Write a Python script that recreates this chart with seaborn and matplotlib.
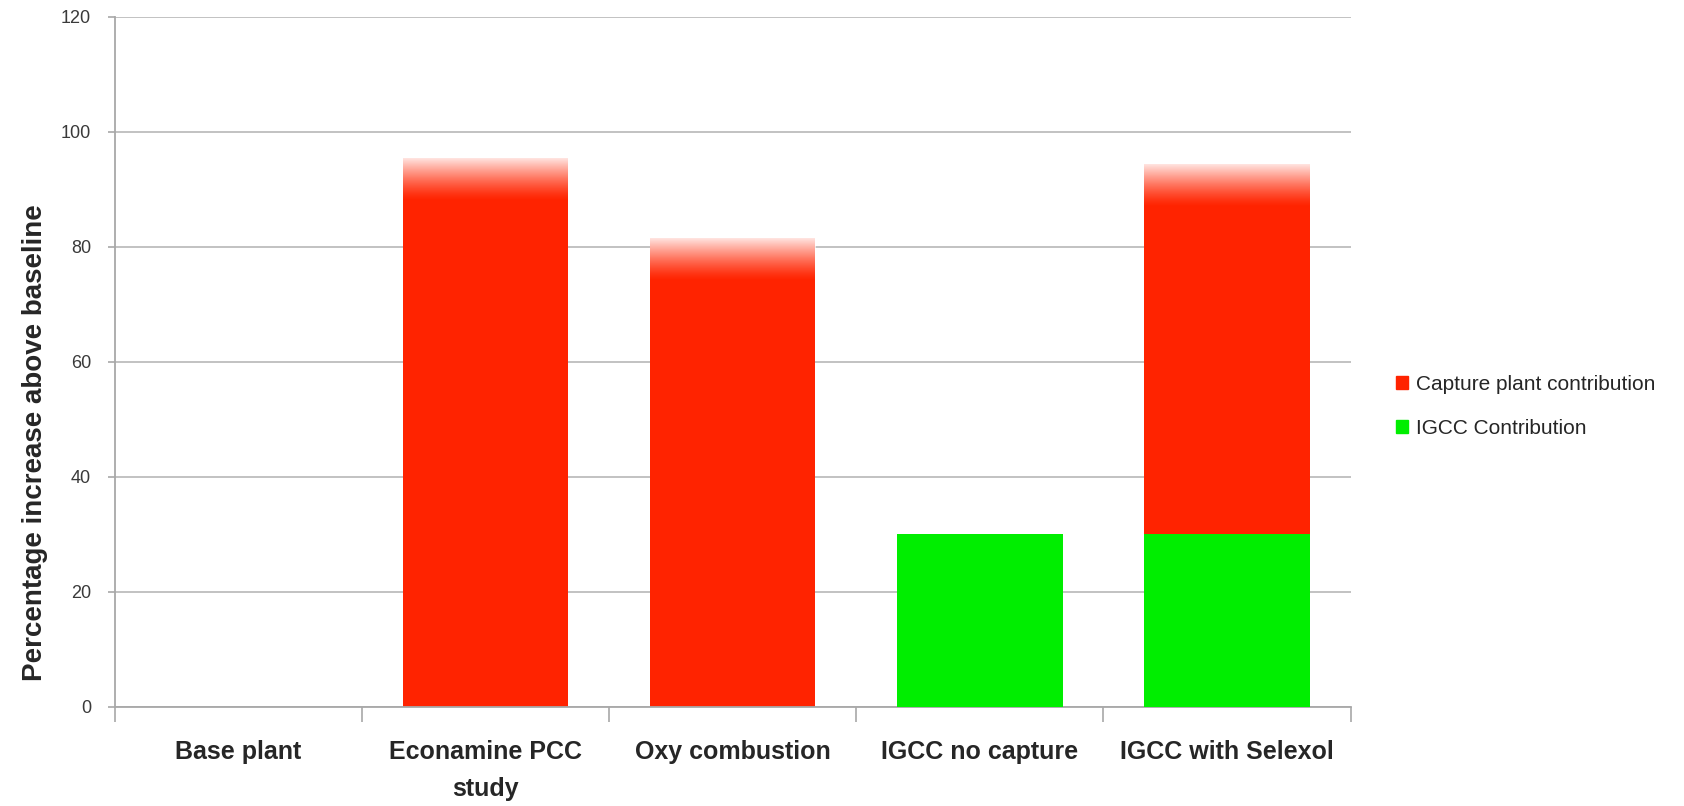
import numpy as np
import pandas as pd
import matplotlib
matplotlib.use('Agg')
import matplotlib.pyplot as plt
import matplotlib.patches as mpatches
import seaborn as sns

# values
categories = ['Base plant', 'Econamine PCC\nstudy', 'Oxy combustion', 'IGCC no capture', 'IGCC with Selexol']
igcc_contribution = [0, 0, 0, 30, 30]
capture_contribution = [0, 95.5, 81.5, 0, 64.5]
y_ticks = [0, 20, 40, 60, 80, 100, 120]

red = '#ff2300'
green = '#00ee00'
fade_depth = 7.5  # units of the gradient at the top of the red bars

df = pd.DataFrame({
    'category': categories,
    'igcc': igcc_contribution,
    'capture': capture_contribution,
})
df['total'] = df['igcc'] + df['capture']

sns.set_style('white')
plt.rcParams['font.family'] = ['Liberation Sans', 'DejaVu Sans']

fig = plt.figure(figsize=(16.84, 8.06), dpi=100)
ax = fig.add_axes([0.068, 0.123, 0.734, 0.856])

# red = total height, green drawn over the bottom part
sns.barplot(data=df, x='category', y='total', color=red, saturation=1, width=0.67,
            linewidth=0, ax=ax, zorder=2)
red_bars = list(ax.patches)
sns.barplot(data=df, x='category', y='igcc', color=green, saturation=1, width=0.67,
            linewidth=0, ax=ax, zorder=3)

# white fade at the top of each red (capture) segment
grad = np.zeros((100, 1, 4))
grad[..., :3] = 1.0
grad[:, 0, 3] = np.linspace(0, 0.93, 100) ** 1.3
for p, cap in zip(red_bars, df['capture']):
    if cap <= 0:
        continue
    top = p.get_y() + p.get_height()
    ax.imshow(grad, extent=[p.get_x(), p.get_x() + p.get_width(), top - fade_depth, top],
              origin='lower', aspect='auto', zorder=4, interpolation='bilinear')

ax.set_xlim(-0.5, len(categories) - 0.5)
ax.set_ylim(0, 120)
ax.set_yticks(y_ticks)
ax.yaxis.grid(True, color='#b8b8b8', linewidth=1.2, zorder=0)
ax.set_axisbelow(True)

for s in ['top', 'right']:
    ax.spines[s].set_visible(False)
for s in ['left', 'bottom']:
    ax.spines[s].set_color('#a8a8a8')
    ax.spines[s].set_linewidth(1.3)

ax.tick_params(axis='y', left=True, length=5, width=1.2, color='#a8a8a8',
               labelsize=13, labelcolor='#3a3a3a', pad=12)
ax.set_xticks(range(len(categories)))
ax.set_xticklabels(categories, fontsize=18, fontweight='bold', va='top', linespacing=1.7)
ax.tick_params(axis='x', which='major', length=0, pad=24)
ax.set_xticks(np.arange(-0.5, len(categories), 1), minor=True)
ax.tick_params(axis='x', which='minor', bottom=True, length=11, width=1.2, color='#a8a8a8')

ax.set_xlabel('')
ax.set_ylabel('Percentage increase above baseline', fontsize=20, fontweight='bold')
ax.yaxis.set_label_coords(-0.054, 0.383)

handles = [mpatches.Patch(color=red, label='Capture plant contribution'),
           mpatches.Patch(color=green, label='IGCC Contribution')]
fig.legend(handles=handles, loc='center left', bbox_to_anchor=(0.818, 0.496), frameon=False,
           fontsize=15, handlelength=0.55, handleheight=0.55, handletextpad=0.4, labelspacing=1.2)

fig.savefig('out.png', dpi=100)
